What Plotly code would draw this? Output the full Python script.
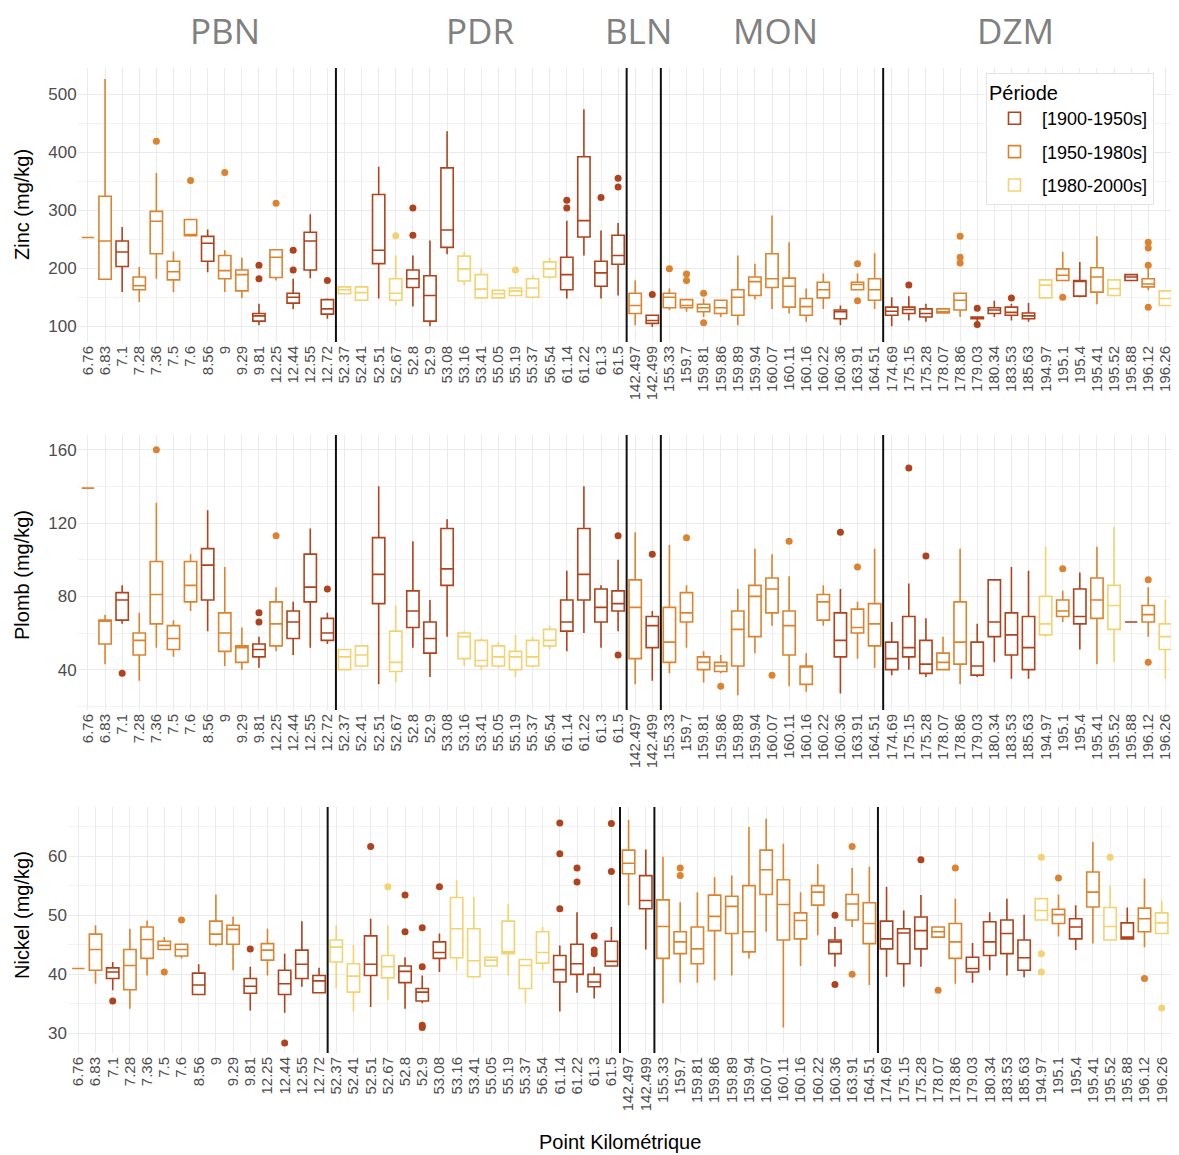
import plotly.graph_objects as go

# ---------------- data ----------------
PK = ["6.76", "6.83", "7.1", "7.28", "7.36", "7.5", "7.6", "8.56", "9", "9.29", "9.81", "12.25", "12.44",
      "12.55", "12.72", "52.37", "52.41", "52.51", "52.67", "52.8", "52.9", "53.08", "53.16", "53.41",
      "55.05", "55.19", "55.37", "56.54", "61.14", "61.22", "61.3", "61.5", "142.497", "142.499",
      "155.33", "159.7", "159.81", "159.86", "159.89", "159.94", "160.07", "160.11", "160.16", "160.22",
      "160.36", "163.91", "164.51", "174.69", "175.15", "175.28", "178.07", "178.86", "179.03", "180.34",
      "183.53", "185.63", "194.97", "195.1", "195.4", "195.41", "195.52", "195.88", "196.12", "196.26"]

PERIOD_NAMES = ["[1900-1950s]", "[1950-1980s]", "[1980-2000s]"]
# period index of every PK (0: 1900-1950s, 1: 1950-1980s, 2: 1980-2000s)
PERIOD = [1, 1, 0, 1, 1, 1, 1, 0, 1, 1, 0, 1, 0, 0, 0,
          2, 2, 0, 2, 0, 0, 0, 2, 2, 2, 2, 2, 2, 0, 0, 0, 0,
          1, 0,
          1, 1, 1, 1, 1, 1, 1, 1, 1, 1, 0, 1, 1,
          0, 0, 0, 1, 1, 0, 0, 0, 0, 2, 1, 0, 1, 2, 0, 1, 2]

SECTIONS = ["PBN", "PDR", "BLN", "MON", "DZM"]
SECTION_BREAKS = ["12.72", "61.5", "142.499", "164.51"]   # last PK of each section

# Zinc (mg/kg)
ZN_LO = [253, 181, 159, 142, 182, 159, 256, 193, 159, 149, 102, 179, 130, 183, 113,
         156, 145, 148, 136, 134, 100, 224, 171, 149, 149, 153, 148, 182, 148, 222, 148, 153,
         102, 99, 128, 125, 116, 116, 102, 146, 130, 122, 108, 130, 102, 163, 130,
         100, 110, 108, 123, 116, 105, 116, 110, 108, 149, 179, 150, 138, 153, 179, 162, 136]
ZN_Q1 = [253, 181, 203, 163, 225, 180, 256, 212, 182, 161, 109, 184, 140, 197, 121,
         156, 145, 208, 145, 167, 109, 236, 178, 149, 149, 153, 150, 185, 163, 254, 169, 207,
         122, 105, 132, 132, 125, 122, 119, 153, 167, 133, 119, 149, 113, 163, 145,
         119, 122, 116, 123, 128, 113, 122, 119, 113, 149, 179, 152, 159, 153, 179, 168, 136]
ZN_MED = [253, 247, 228, 170, 281, 194, 258, 243, 196, 189, 118, 219, 150, 247, 130,
          163, 158, 231, 157, 182, 153, 266, 199, 164, 156, 161, 166, 199, 189, 282, 192, 222,
          136, 110, 150, 136, 132, 132, 150, 177, 182, 169, 134, 163, 125, 172, 163,
          126, 129, 122, 125, 145, 114, 128, 124, 118, 171, 188, 178, 185, 165, 185, 173, 148]
ZN_Q3 = [253, 324, 247, 185, 298, 212, 284, 255, 222, 197, 122, 232, 157, 262, 146,
         168, 168, 327, 182, 197, 187, 373, 221, 189, 162, 166, 182, 211, 219, 392, 212, 257,
         157, 119, 157, 146, 138, 145, 163, 185, 225, 183, 148, 176, 128, 176, 182,
         133, 133, 130, 130, 157, 116, 132, 133, 123, 180, 199, 179, 201, 180, 189, 182, 161]
ZN_HI = [253, 526, 271, 202, 364, 229, 284, 267, 231, 218, 139, 232, 182, 293, 148,
         168, 168, 375, 222, 222, 248, 436, 228, 199, 162, 166, 188, 218, 282, 474, 265, 278,
         179, 119, 165, 146, 148, 145, 222, 208, 291, 245, 165, 191, 136, 191, 226,
         150, 152, 139, 130, 157, 116, 144, 139, 140, 180, 228, 211, 255, 180, 189, 202, 161]
ZN_OUT_PK = ["7.36", "7.6", "9", "9.81", "9.81", "12.25", "12.44", "12.44", "12.72", "52.67",
             "52.8", "52.8", "55.19", "61.14", "61.14", "61.3", "61.5", "61.5", "142.499", "155.33",
             "159.7", "159.7", "159.81", "159.81", "163.91", "163.91", "175.15", "178.86", "178.86",
             "178.86", "179.03", "179.03", "183.53", "195.1", "196.12", "196.12", "196.12", "196.12"]
ZN_OUT_VAL = [419, 351, 365, 205, 182, 312, 231, 197, 179, 256,
              257, 304, 197, 317, 304, 322, 355, 340, 155, 199,
              190, 179, 157, 106, 208, 144, 171, 255, 219,
              209, 131, 103, 149, 150, 245, 235, 205, 133]

# Plomb (mg/kg)
PB_LO = [139, 43, 65, 34, 52, 47, 72, 61, 42, 40, 41, 50, 48, 52, 54,
         40, 42, 32, 33, 52, 36, 58, 42, 40, 41, 36, 41, 51, 50, 60, 52, 61,
         32, 34, 38, 52, 33, 38, 26, 49, 64, 31, 28, 64, 27, 46, 41,
         37, 40, 36, 40, 32, 36, 44, 35, 35, 58, 66, 51, 43, 44, 66, 58, 35]
PB_Q1 = [139, 54, 67, 48, 65, 51, 77, 78, 50, 44, 47, 53, 57, 77, 56,
         40, 42, 76, 39, 63, 49, 86, 46, 42, 42, 40, 42, 53, 61, 78, 66, 72,
         46, 52, 44, 66, 40, 39, 42, 58, 71, 48, 32, 67, 47, 60, 53,
         40, 47, 38, 40, 43, 37, 58, 48, 40, 59, 69, 65, 68, 62, 66, 66, 51]
PB_MED = [139, 67, 78, 56, 81, 57, 86, 97, 60, 52, 51, 65, 66, 85, 60,
          47, 48, 92, 44, 72, 57, 95, 58, 45, 47, 47, 47, 56, 66, 92, 74, 76,
          74, 64, 55, 71, 44, 42, 62, 80, 84, 64, 42, 77, 56, 63, 65,
          46, 52, 43, 44, 55, 42, 66, 59, 52, 65, 72, 69, 78, 75, 66, 70, 58]
PB_Q3 = [139, 67, 82, 60, 99, 64, 99, 106, 71, 53, 54, 77, 72, 103, 68,
         51, 53, 112, 61, 83, 66, 117, 60, 56, 53, 50, 56, 62, 78, 117, 84, 83,
         89, 69, 74, 82, 47, 44, 72, 86, 90, 72, 42, 81, 71, 73, 76,
         55, 69, 56, 49, 77, 55, 89, 71, 69, 80, 78, 84, 90, 86, 66, 75, 65]
PB_HI = [139, 70, 86, 71, 131, 67, 103, 127, 96, 63, 58, 85, 77, 117, 71,
         51, 53, 140, 75, 110, 78, 122, 61, 57, 55, 59, 58, 64, 94, 140, 86, 100,
         115, 72, 108, 86, 50, 48, 84, 106, 103, 91, 49, 86, 84, 77, 106,
         66, 87, 68, 58, 106, 65, 89, 96, 94, 107, 83, 93, 107, 118, 66, 85, 78]
PB_OUT_PK = ["7.1", "7.36", "9.81", "9.81", "12.25", "12.72", "61.5", "61.5", "142.499", "159.7",
             "159.86", "160.07", "160.11", "160.36", "163.91", "175.15", "175.28", "195.1", "196.12", "196.12"]
PB_OUT_VAL = [38, 160, 71, 66, 113, 84, 113, 48, 103, 112,
              31, 37, 110, 115, 96, 150, 102, 95, 89, 44]

# Nickel (mg/kg)
NI_LO = [41, 38.4, 37.3, 34.2, 39.8, 44.2, 42.7, 36.6, 44.7, 40.7, 33.9, 39.8, 33.5, 37.9, 36.9,
         37.6, 33.7, 34.5, 35.6, 34.2, 35.1, 40.4, 40.7, 39.6, 41.4, 39.8, 35.1, 40.7, 33.7, 36.9, 35.9, 41.4,
         51.7, 44.2, 35.1, 38.6, 38.6, 39, 39.8, 42.7, 47.2, 31, 41.4, 46.6, 41.3, 48, 38.2,
         39.6, 37.9, 41.3, 46.3, 38.4, 38.6, 40.7, 39.8, 39.5, 49.2, 46.4, 44.1, 45.2, 45.8, 46, 44.6, 46.9]
NI_Q1 = [41, 40.7, 39.3, 37.4, 42.7, 44.2, 43.1, 36.6, 45.1, 45.1, 36.8, 42.4, 36.6, 39.3, 36.9,
         42.1, 37, 39.8, 39.4, 38.6, 35.5, 42.7, 42.8, 39.6, 41.4, 43.5, 37.6, 41.9, 38.7, 40, 37.9, 41.4,
         57, 51.1, 42.7, 43.5, 41.8, 47.4, 46.9, 43.8, 53.5, 45.8, 46, 51.7, 43.5, 49.2, 45.2,
         44.3, 41.8, 44.3, 46.3, 42.7, 40.4, 43.2, 43.5, 40.7, 49.2, 48.6, 46, 51.4, 45.8, 46, 47.2, 46.9]
NI_MED = [41, 44.2, 40.4, 41.5, 45.9, 44.9, 44.2, 38.2, 46.8, 47.6, 38, 44.1, 38.4, 41.7, 38.9,
          44.6, 39.7, 41.7, 41.3, 40.5, 37, 43.7, 47.7, 42.3, 42.4, 43.8, 41.5, 43.7, 40.8, 41.8, 38.7, 42.2,
          58.8, 52.5, 48.1, 45.5, 44.3, 49.8, 51.5, 47.2, 57.7, 51.8, 49.1, 53.9, 45.5, 51.9, 48.6,
          46, 47, 47.4, 47.2, 45.5, 41, 45.5, 46.9, 42.8, 50.8, 50.1, 48, 53.9, 48.1, 46.3, 49.4, 48.7]
NI_Q3 = [41, 46.8, 41.1, 44.2, 48, 45.6, 45.1, 40.2, 49, 48.3, 39.3, 45.2, 40.7, 44.1, 39.8,
         45.8, 41.8, 46.5, 43.2, 41.4, 37.6, 45.5, 53, 47.7, 42.9, 49, 42.5, 47.2, 43.2, 45.1, 40, 45.6,
         61, 56.7, 52.6, 47.2, 48, 53.4, 53.2, 55, 61, 56, 50.4, 55, 45.8, 53.5, 52.1,
         49, 47.7, 49.7, 48, 48.6, 42.9, 48.9, 49.2, 45.8, 52.8, 51, 49.4, 57.3, 51.3, 48.7, 51.2, 50.4]
NI_HI = [41, 48.3, 42.1, 47.7, 49.1, 46.3, 45.1, 41.7, 53.5, 49.8, 41.3, 47.7, 43.5, 49, 41.1,
         48.3, 45, 49.4, 48.3, 42.9, 39.8, 46.9, 55.9, 53.1, 42.9, 51.9, 42.5, 48, 44.9, 50.5, 41.3, 48,
         66.1, 61.1, 59.9, 52.2, 53.9, 56.4, 56.7, 64.9, 66.3, 62.1, 53.9, 58.6, 48, 58, 58.2,
         54.8, 50.8, 53.4, 48, 52.8, 45.3, 50.5, 52.8, 50.1, 52.8, 53.5, 51.7, 62.4, 55, 51.3, 56.2, 52.5]
NI_OUT_PK = ["7.1", "7.5", "7.6", "9.81", "12.44", "52.51", "52.67", "52.8", "52.8", "52.9", "52.9",
             "52.9", "52.9", "53.08", "61.14", "61.14", "61.14", "61.22", "61.22", "61.3", "61.3", "61.3",
             "61.5", "61.5", "159.7", "159.7", "160.36", "160.36", "163.91", "163.91", "175.28", "178.07",
             "178.86", "194.97", "194.97", "194.97", "195.1", "195.52", "196.12", "196.26"]
NI_OUT_VAL = [35.5, 40.4, 49.2, 44.3, 28.4, 61.6, 54.8, 53.4, 47.2, 41.3, 47.9,
              31.4, 31.0, 54.8, 65.6, 60.4, 51.1, 58.0, 55.6, 46.5, 44.1, 43.5,
              65.5, 57.4, 58.0, 56.7, 50.0, 38.3, 61.6, 40.0, 59.4, 37.3,
              58.0, 59.8, 43.5, 40.4, 56.3, 59.8, 39.3, 34.3]

# ---------------- styling ----------------
COLORS = ["#AE431D", "#DB832F", "#F3D272"]
OFF = 8                       # page body margin of the html page
W, H = 1179 - OFF, 1155 - OFF
GRID = "#EBEBEB"
MINOR = "#F3F3F3"
TICKCOL = "#4D4D4D"
FONT = "Liberation Sans, Arial, sans-serif"


def fx(px):
    return (px - OFF) / W


def fy(py):
    return 1 - (py - OFF) / H


# pixel layout of the three panels in the target picture: (left, right, top, bottom)
PANELS = [
    dict(name="Zinc (mg/kg)", px=(77.7, 1175.6, 68, 342), yr=[73, 545], dt=100, mdt=50,
         data=(ZN_LO, ZN_Q1, ZN_MED, ZN_Q3, ZN_HI, ZN_OUT_PK, ZN_OUT_VAL), ttl_y=205),
    dict(name="Plomb (mg/kg)", px=(77.7, 1175.6, 435, 710), yr=[18, 168], dt=40, mdt=20,
         data=(PB_LO, PB_Q1, PB_MED, PB_Q3, PB_HI, PB_OUT_PK, PB_OUT_VAL), ttl_y=575),
    dict(name="Nickel (mg/kg)", px=(68, 1172, 807, 1053), yr=[26.7, 68.3], dt=10, mdt=5,
         data=(NI_LO, NI_Q1, NI_MED, NI_Q3, NI_HI, NI_OUT_PK, NI_OUT_VAL), ttl_y=915),
]

fig = go.Figure()
layout = dict(width=W, height=H, margin=dict(l=0, r=0, t=0, b=0), paper_bgcolor="white",
              plot_bgcolor="white", boxmode="overlay", font=dict(family=FONT, color="#000"),
              shapes=[], annotations=[])

for k, p in enumerate(PANELS):
    sfx = "" if k == 0 else str(k + 1)
    xa, ya = "x" + sfx, "y" + sfx
    lo, q1, med, q3, hi, opk, oval = p["data"]
    for per in range(3):
        idx = [i for i in range(len(PK)) if PERIOD[i] == per]
        fig.add_trace(go.Box(
            x=[PK[i] for i in idx],
            q1=[q1[i] for i in idx], median=[med[i] for i in idx], q3=[q3[i] for i in idx],
            lowerfence=[lo[i] for i in idx], upperfence=[hi[i] for i in idx],
            name=PERIOD_NAMES[per], legendgroup=PERIOD_NAMES[per], showlegend=(k == 0),
            line=dict(color=COLORS[per], width=1.6), fillcolor="white",
            whiskerwidth=0, width=0.72, boxpoints=False, xaxis=xa, yaxis=ya))
        o_idx = [j for j in range(len(opk)) if PERIOD[PK.index(opk[j])] == per]
        if o_idx:
            fig.add_trace(go.Scatter(
                x=[opk[j] for j in o_idx], y=[oval[j] for j in o_idx], mode="markers",
                marker=dict(color=COLORS[per], size=7), showlegend=False,
                legendgroup=PERIOD_NAMES[per], xaxis=xa, yaxis=ya))

    left, right, top, bottom = p["px"]
    layout["xaxis" + sfx] = dict(
        domain=[fx(left), fx(right)], anchor=ya, type="category",
        categoryorder="array", categoryarray=PK, range=[-0.6, len(PK) - 0.4],
        tickmode="array", tickvals=PK, ticktext=PK, tickangle=-90,
        tickfont=dict(size=15, color=TICKCOL, family=FONT), showgrid=True, gridcolor=GRID,
        gridwidth=1, zeroline=False, showline=False, ticks="", automargin=False)
    layout["yaxis" + sfx] = dict(
        domain=[fy(bottom), fy(top)], anchor=xa, range=p["yr"], tick0=0, dtick=p["dt"],
        tickfont=dict(size=17, color=TICKCOL, family=FONT), showgrid=True, gridcolor=GRID,
        gridwidth=1, zeroline=False, showline=False, ticks="", automargin=False,
        minor=dict(dtick=p["mdt"], tick0=0, showgrid=True, gridcolor=MINOR, gridwidth=1))
    for b in SECTION_BREAKS:
        xb = PK.index(b) + 0.5
        layout["shapes"].append(dict(type="line", xref=xa, yref=ya + " domain", x0=xb, x1=xb,
                                     y0=0, y1=1, line=dict(color="#111", width=2)))
    layout["annotations"].append(dict(
        text=p["name"], xref="paper", yref="paper", x=fx(22), y=fy(p["ttl_y"]),
        textangle=-90, showarrow=False, font=dict(size=20, color="#000", family=FONT),
        xanchor="center", yanchor="middle"))

# section titles
SECTION_X = [225, 480, 638, 775, 1015]
for name, sx in zip(SECTIONS, SECTION_X):
    layout["annotations"].append(dict(
        text=name, xref="paper", yref="paper", x=fx(sx), y=fy(30), showarrow=False,
        font=dict(size=35, color="#808080", family="Open Sans, sans-serif"),
        xanchor="center", yanchor="middle"))

layout["annotations"].append(dict(
    text="Point Kilométrique", xref="paper", yref="paper", x=fx(620), y=fy(1142),
    showarrow=False, font=dict(size=20, color="#000", family=FONT), xanchor="center", yanchor="middle"))

layout["legend"] = dict(
    title=dict(text="Période", font=dict(size=20, color="#000", family=FONT)),
    x=fx(986), y=fy(73), xanchor="left", yanchor="top", bgcolor="white",
    bordercolor="#E3E3E3", borderwidth=1, font=dict(size=18, color="#000", family=FONT),
    traceorder="grouped", tracegroupgap=7, itemwidth=45)

fig.update_layout(**layout)
fig.write_html("out.html")
